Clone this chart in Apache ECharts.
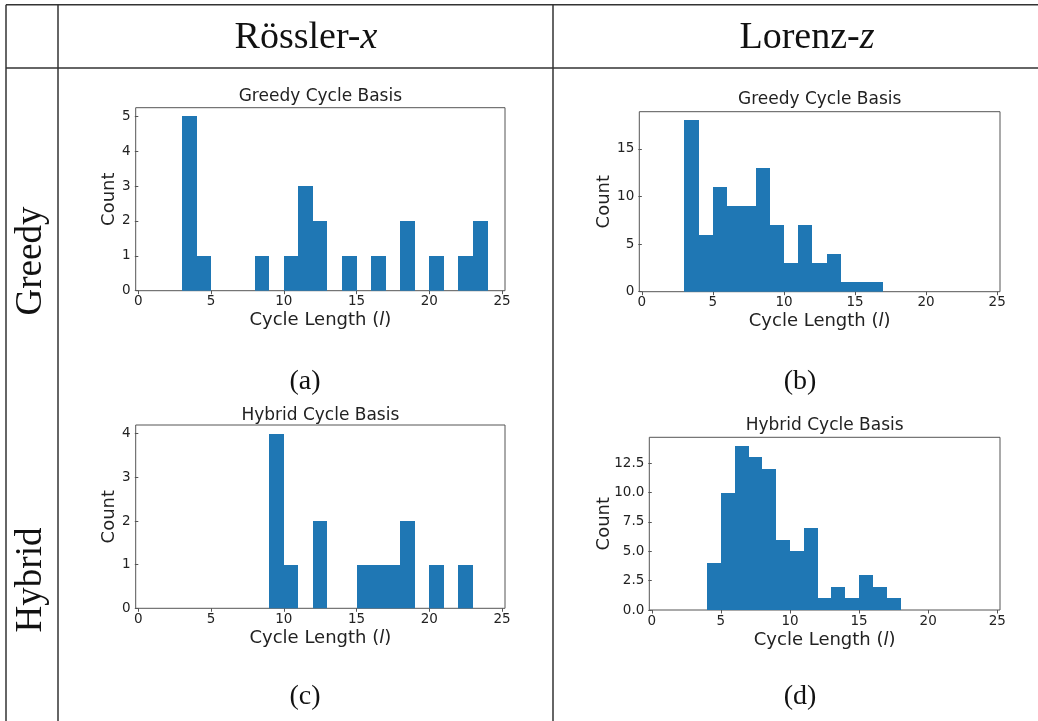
<!DOCTYPE html>
<html>
<head>
<meta charset="utf-8">
<script src="https://cdn.jsdelivr.net/npm/echarts@6/dist/echarts.min.js"></script>
<style>
html,body{margin:0;padding:0;background:#fff;}
#chart{width:1038px;height:721px;}
</style>
</head>
<body>
<div id="chart"></div>
<script>
// ---- data ----
const binWidth = 1;
const rosslerGreedyBinStart = [3, 4, 8, 10, 11, 12, 14, 16, 18, 20, 22, 23];
const rosslerGreedyCounts   = [5, 1, 1, 1, 3, 2, 1, 1, 2, 1, 1, 2];
const lorenzGreedyBinStart  = [3, 4, 5, 6, 7, 8, 9, 10, 11, 12, 13, 14, 15, 16];
const lorenzGreedyCounts    = [18, 6, 11, 9, 9, 13, 7, 3, 7, 3, 4, 1, 1, 1];
const rosslerHybridBinStart = [9, 10, 12, 15, 16, 17, 18, 20, 22];
const rosslerHybridCounts   = [4, 1, 2, 1, 1, 1, 2, 1, 1];
const lorenzHybridBinStart  = [4, 5, 6, 7, 8, 9, 10, 11, 12, 13, 14, 15, 16, 17];
const lorenzHybridCounts    = [4, 10, 14, 13, 12, 6, 5, 7, 1, 2, 1, 3, 2, 1];

const xTicks = [0, 5, 10, 15, 20, 25];
const yTicksA = [0, 1, 2, 3, 4, 5];
const yTicksB = [0, 5, 10, 15];
const yTicksC = [0, 1, 2, 3, 4];
const yTicksD = [0, 2.5, 5, 7.5, 10, 12.5];

const columnHeaders = ['Rössler-', 'Lorenz-'];
const columnVars = ['x', 'z'];
const rowHeaders = ['Greedy', 'Hybrid'];
const captions = ['(a)', '(b)', '(c)', '(d)'];
const panelTitles = ['Greedy Cycle Basis', 'Greedy Cycle Basis', 'Hybrid Cycle Basis', 'Hybrid Cycle Basis'];

// ---- layout ----
const panels = [
  {left: 135.7, top: 107.7, width: 369.3, height: 183.0, yMax: 5.25, yTicks: yTicksA, dec: 0, nameGap: 17, starts: rosslerGreedyBinStart, counts: rosslerGreedyCounts, titleY: 97},
  {left: 639.3, top: 111.7, width: 360.7, height: 180.0, yMax: 18.9, yTicks: yTicksB, dec: 0, nameGap: 26, starts: lorenzGreedyBinStart, counts: lorenzGreedyCounts, titleY: 100},
  {left: 135.7, top: 425.0, width: 369.3, height: 183.3, yMax: 4.2, yTicks: yTicksC, dec: 0, nameGap: 17, starts: rosslerHybridBinStart, counts: rosslerHybridCounts, titleY: 416},
  {left: 649.3, top: 437.3, width: 350.7, height: 172.7, yMax: 14.7, yTicks: yTicksD, dec: 1, nameGap: 36, starts: lorenzHybridBinStart, counts: lorenzHybridCounts, titleY: 426}
];

const SANS = 'DejaVu Sans';
const SERIF = 'Liberation Serif';
const TXT = '#222';
const AX = '#555';
const BAR = '#1f77b4';

const grids = [], xAxes = [], yAxes = [], series = [], titles = [];
panels.forEach((p, i) => {
  grids.push({left: p.left, top: p.top, width: p.width, height: p.height,
    show: true, borderColor: AX, borderWidth: 1, backgroundColor: 'transparent', containLabel: false});
  xAxes.push({
    type: 'value', gridIndex: i, min: -0.18, max: 25.2,
    name: '{n|Cycle Length (}{i|l}{n|)}', nameLocation: 'middle', nameGap: 21,
    nameTextStyle: {rich: {
      n: {fontFamily: SANS, fontSize: 18, color: TXT},
      i: {fontFamily: SANS, fontSize: 18, color: TXT, fontStyle: 'italic'}
    }},
    axisLine: {show: false},
    axisTick: {show: true, length: 3.5, inside: false, lineStyle: {color: AX, width: 1}, customValues: xTicks},
    axisLabel: {fontFamily: SANS, fontSize: 13.5, color: TXT, margin: 4, customValues: xTicks},
    splitLine: {show: false}
  });
  yAxes.push({
    type: 'value', gridIndex: i, min: 0, max: p.yMax,
    name: 'Count', nameLocation: 'middle', nameGap: p.nameGap, nameRotate: 90,
    nameMoveOverlap: false,
    nameTextStyle: {fontFamily: SANS, fontSize: 18, color: TXT},
    axisLine: {show: false},
    axisTick: {show: true, length: 3.5, inside: false, lineStyle: {color: AX, width: 1}, customValues: p.yTicks},
    axisLabel: {fontFamily: SANS, fontSize: 13.5, color: TXT, margin: 5, customValues: p.yTicks,
      formatter: v => Number(v).toFixed(p.dec)},
    splitLine: {show: false}
  });
  const data = p.starts.map((s, k) => [s, s + binWidth, p.counts[k]]);
  series.push({
    type: 'custom', xAxisIndex: i, yAxisIndex: i, data: data,
    encode: {x: [0, 1], y: 2},
    renderItem: (params, api) => {
      const a = api.coord([api.value(0), api.value(2)]);
      const b = api.coord([api.value(1), 0]);
      const x0 = Math.round(a[0]), x1 = Math.round(b[0]);
      const y0 = Math.round(a[1]), y1 = b[1];
      return {type: 'rect', shape: {x: x0, y: y0, width: x1 - x0, height: y1 - y0},
        style: {fill: BAR}};
    }
  });
  titles.push({
    text: panelTitles[i], left: p.left + p.width / 2, top: p.titleY, textAlign: 'center', textVerticalAlign: 'middle',
    padding: 0,
    textStyle: {fontFamily: SANS, fontSize: 17, fontWeight: 'normal', color: TXT}
  });
});

// ---- table decoration ----
const LINE = {stroke: '#333', lineWidth: 1.5};
const graphics = [
  {type: 'line', shape: {x1: 6, y1: 4.7, x2: 1038, y2: 4.7}, style: LINE},
  {type: 'line', shape: {x1: 6, y1: 68, x2: 1038, y2: 68}, style: LINE},
  {type: 'line', shape: {x1: 6, y1: 4.7, x2: 6, y2: 721}, style: LINE},
  {type: 'line', shape: {x1: 58, y1: 4.7, x2: 58, y2: 721}, style: LINE},
  {type: 'line', shape: {x1: 553, y1: 4.7, x2: 553, y2: 721}, style: LINE}
];
const headerX = [306, 807];
columnHeaders.forEach((h, i) => {
  graphics.push({type: 'text', x: headerX[i], y: 38, style: {
    text: '{a|' + h + '}{b|' + columnVars[i] + '}',
    align: 'center', verticalAlign: 'middle',
    rich: {
      a: {fontFamily: SERIF, fontSize: 38, fill: '#111'},
      b: {fontFamily: SERIF, fontSize: 38, fill: '#111', fontStyle: 'italic'}
    }
  }});
});
const rowY = [261, 580];
rowHeaders.forEach((r, i) => {
  graphics.push({type: 'text', x: 31, y: rowY[i], rotation: Math.PI / 2, style: {
    text: r, fontFamily: SERIF, fontSize: 37, fill: '#111', align: 'center', verticalAlign: 'middle'
  }});
});
const capPos = [[305, 382], [800, 382], [305, 697], [800, 697]];
captions.forEach((c, i) => {
  graphics.push({type: 'text', x: capPos[i][0], y: capPos[i][1], style: {
    text: c, fontFamily: SERIF, fontSize: 28, fill: '#111', align: 'center', verticalAlign: 'middle'
  }});
});

const chart = echarts.init(document.getElementById('chart'), null, {renderer: 'canvas'});
chart.setOption({
  animation: false,
  backgroundColor: '#fff',
  title: titles,
  grid: grids,
  xAxis: xAxes,
  yAxis: yAxes,
  series: series,
  graphic: graphics
});
</script>
</body>
</html>
